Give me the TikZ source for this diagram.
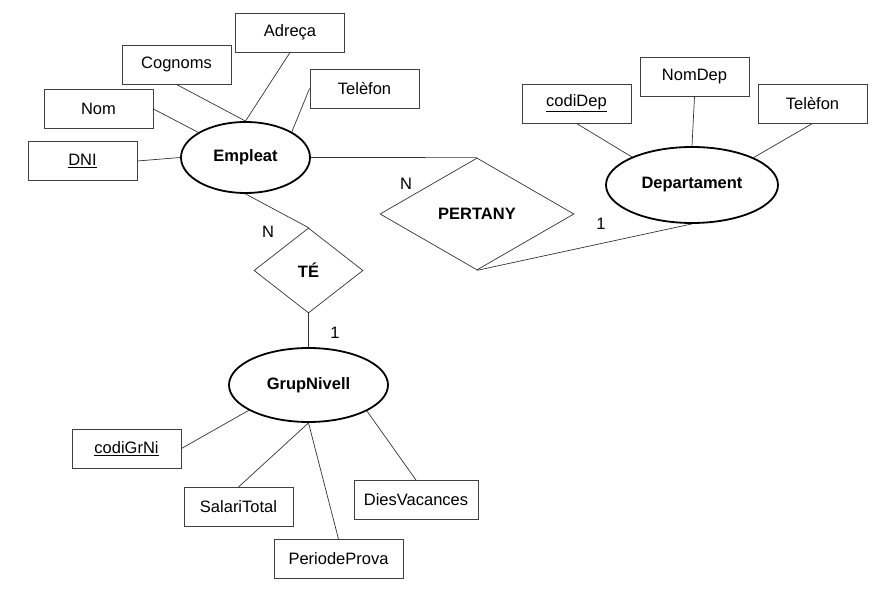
\documentclass[tikz,border=0pt]{standalone}
\usepackage{fontspec}
\setmainfont{Liberation Sans}
\usetikzlibrary{shapes.geometric}
\begin{document}
\begin{tikzpicture}[x=1pt,y=-1pt,
  every node/.style={font=\fontsize{16.5}{19}\selectfont},
  attr/.style={draw=black!75,line width=0.9pt,rectangle,minimum width=109pt,minimum height=39pt,inner sep=0pt},
  ent/.style={draw=black,line width=1.8pt,ellipse,inner sep=0pt,font=\fontsize{16.5}{19}\selectfont\bfseries},
  rel/.style={draw=black!80,line width=0.7pt,diamond,inner sep=0pt,font=\fontsize{16.5}{19}\selectfont\bfseries},
  conn/.style={draw=black!80,line width=0.7pt},
  card/.style={font=\fontsize{16.5}{19}\selectfont}
]
\useasboundingbox (0,0) rectangle (889,593);
% entities
\node[ent,minimum width=129pt,minimum height=71pt] (Empleat) at (245.5,157.5) {Empleat};
\node[ent,minimum width=172pt,minimum height=76pt] (Departament) at (692,185) {Departament};
\node[ent,minimum width=159pt,minimum height=74pt] (GrupNivell) at (308.5,385) {GrupNivell};
% relationships
\node[rel,minimum width=194pt,minimum height=112pt] (Pertany) at (477,214) {PERTANY};
\node[rel,minimum width=109pt,minimum height=85pt] (Te) at (308.5,270.5) {TÉ};
% attributes of Empleat
\node[attr] (Adreca) at (290,32.5) {Adreça};
\node[attr] (Cognoms) at (176.5,64.5) {Cognoms};
\node[attr] (Nom) at (98.5,109) {Nom};
\node[attr] (DNI) at (82.5,161) {\underline{DNI}};
\node[attr] (Tel1) at (364.5,88.5) {Telèfon};
% attributes of Departament
\node[attr] (codiDep) at (576.5,103.5) {\underline{codiDep}};
\node[attr] (NomDep) at (694.5,76.5) {NomDep};
\node[attr] (Tel2) at (812.5,103.5) {Telèfon};
% attributes of GrupNivell
\node[attr] (codiGrNi) at (126.5,448.5) {\underline{codiGrNi}};
\node[attr] (SalariTotal) at (238.5,507) {SalariTotal};
\node[attr,minimum width=129pt] (PeriodeProva) at (338.5,559) {PeriodeProva};
\node[attr,minimum width=124pt] (DiesVacances) at (416,500) {DiesVacances};
% connectors
\draw[conn] (Adreca.south) -- (Empleat.north);
\draw[conn] (Cognoms.south) -- (Empleat.north);
\draw[conn] (Nom.east) -- (Empleat.152);
\draw[conn] (DNI.east) -- (Empleat.west);
\draw[conn] (Tel1.west) -- (Empleat.29);
\draw[conn] (codiDep.south) -- (Departament.155);
\draw[conn] (NomDep.south) -- (Departament.north);
\draw[conn] (Tel2.south) -- (Departament.24);
\draw[conn] (codiGrNi.east) -- (GrupNivell.203);
\draw[conn] (SalariTotal.north) -- (GrupNivell.south);
\draw[conn] (PeriodeProva.north) -- (GrupNivell.south);
\draw[conn] (DiesVacances.north) -- (GrupNivell.336);
\draw[conn] (Empleat.east) -- (Pertany.north);
\draw[conn] (Pertany.south) -- (Departament.south);
\draw[conn] (Empleat.south) -- (Te.north);
\draw[conn] (Te.south) -- (GrupNivell.north);
% cardinalities
\node[card] (c1) at (406,184) {N};
\node[card] (c2) at (601,224) {1};
\node[card] (c3) at (268,232) {N};
\node[card] (c4) at (335,333) {1};
\end{tikzpicture}
\end{document}
